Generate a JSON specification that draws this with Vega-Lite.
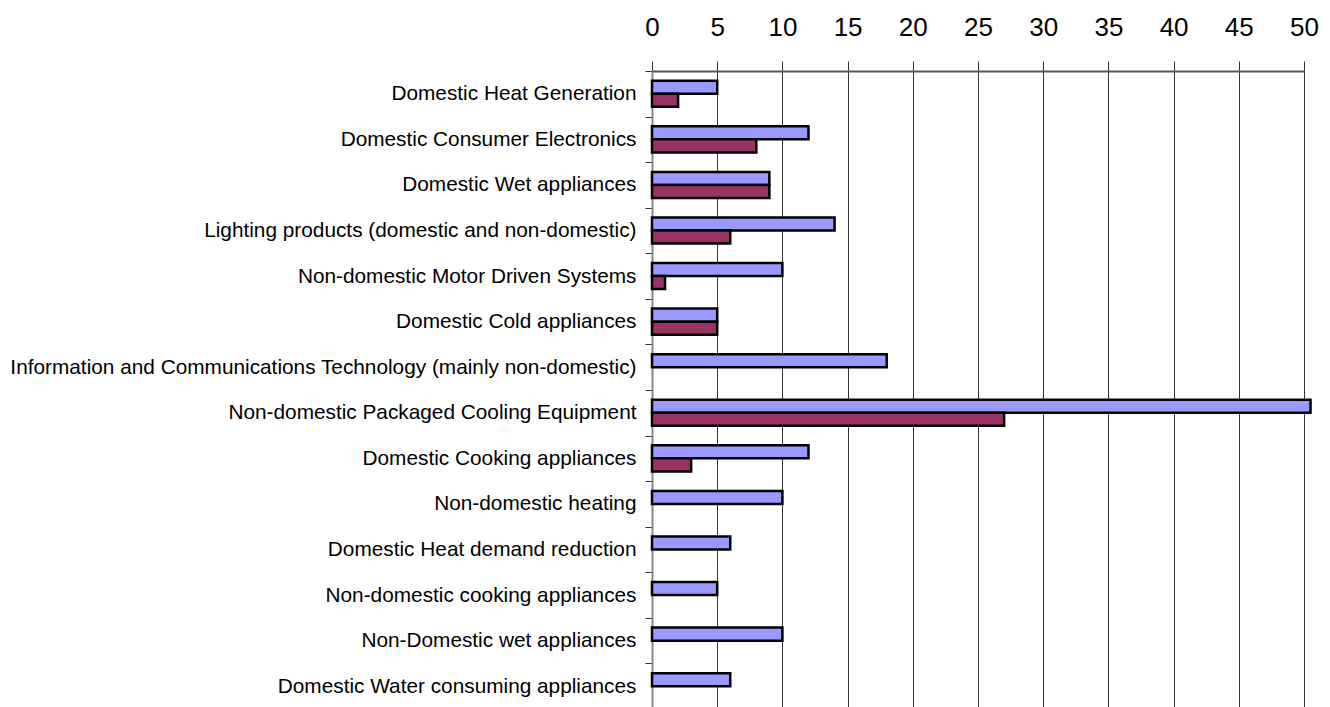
{
  "$schema": "https://vega.github.io/schema/vega-lite/v6.json",
  "width": 652,
  "height": 638,
  "autosize": {"type": "none"},
  "padding": {"left": 652, "top": 71, "right": 26, "bottom": 0},
  "background": "white",
  "data": {
    "values": [
      {"category": "Domestic Heat Generation", "series": "A", "value": 5},
      {"category": "Domestic Heat Generation", "series": "B", "value": 2},
      {"category": "Domestic Consumer Electronics", "series": "A", "value": 12},
      {"category": "Domestic Consumer Electronics", "series": "B", "value": 8},
      {"category": "Domestic Wet appliances", "series": "A", "value": 9},
      {"category": "Domestic Wet appliances", "series": "B", "value": 9},
      {"category": "Lighting products (domestic and non-domestic)", "series": "A", "value": 14},
      {"category": "Lighting products (domestic and non-domestic)", "series": "B", "value": 6},
      {"category": "Non-domestic Motor Driven Systems ", "series": "A", "value": 10},
      {"category": "Non-domestic Motor Driven Systems ", "series": "B", "value": 1},
      {"category": "Domestic Cold appliances", "series": "A", "value": 5},
      {"category": "Domestic Cold appliances", "series": "B", "value": 5},
      {"category": "Information and Communications Technology (mainly non-domestic)", "series": "A", "value": 18},
      {"category": "Non-domestic Packaged Cooling Equipment ", "series": "A", "value": 50.5},
      {"category": "Non-domestic Packaged Cooling Equipment ", "series": "B", "value": 27},
      {"category": "Domestic Cooking appliances", "series": "A", "value": 12},
      {"category": "Domestic Cooking appliances", "series": "B", "value": 3},
      {"category": "Non-domestic heating", "series": "A", "value": 10},
      {"category": "Domestic Heat demand reduction", "series": "A", "value": 6},
      {"category": "Non-domestic cooking appliances", "series": "A", "value": 5},
      {"category": "Non-Domestic wet appliances", "series": "A", "value": 10},
      {"category": "Domestic Water consuming appliances", "series": "A", "value": 6}
    ]
  },
  "mark": {"type": "bar", "stroke": "black", "strokeWidth": 2.5, "clip": false},
  "encoding": {
    "y": {
      "field": "category",
      "type": "nominal",
      "sort": null,
      "scale": {"paddingInner": 0, "paddingOuter": 0},
      "axis": {
        "title": null,
        "tickBand": "extent",
        "tickSize": 7,
        "tickColor": "#333",
        "labelPadding": 9,
        "labelLimit": 800,
        "labelFont": "Liberation Sans",
        "labelFontSize": 20.8,
        "labelColor": "black",
        "domainColor": "#888",
        "domainWidth": 2,
        "grid": false
      }
    },
    "yOffset": {
      "field": "series",
      "type": "nominal",
      "sort": ["A", "B"],
      "scale": {"domain": ["A", "B"], "paddingInner": 0, "paddingOuter": 0.75}
    },
    "x": {
      "field": "value",
      "type": "quantitative",
      "scale": {"domain": [0, 50], "nice": false, "zero": true},
      "axis": {
        "orient": "top",
        "title": null,
        "values": [0, 5, 10, 15, 20, 25, 30, 35, 40, 45, 50],
        "tickSize": 10,
        "tickColor": "#333",
        "labelPadding": 26,
        "labelBaseline": "alphabetic",
        "labelFont": "Liberation Sans",
        "labelFontSize": 26,
        "labelColor": "black",
        "labelFlush": false,
        "labelOverlap": false,
        "domainColor": "#555",
        "domainWidth": 2,
        "grid": true,
        "gridColor": "#333",
        "gridWidth": 1,
        "gridOpacity": 1
      }
    },
    "color": {
      "field": "series",
      "type": "nominal",
      "scale": {"domain": ["A", "B"], "range": ["#9999FF", "#993366"]},
      "legend": null
    }
  },
  "config": {"view": {"stroke": null}}
}
